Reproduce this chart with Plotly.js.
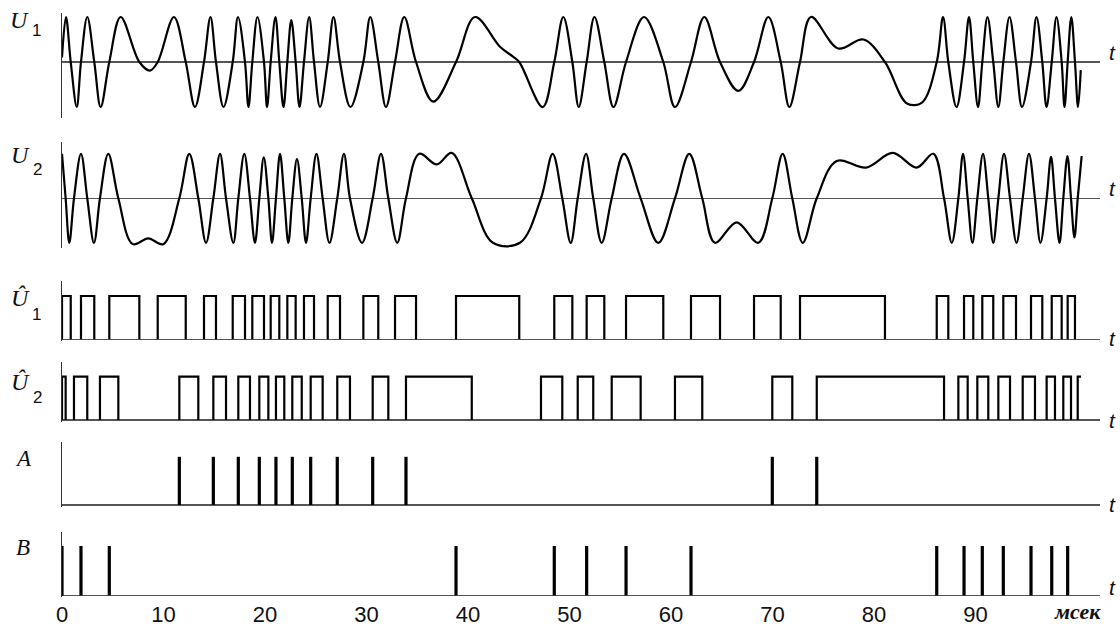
<!DOCTYPE html>
<html>
<head>
<meta charset="utf-8">
<script src="https://cdn.plot.ly/plotly-3.0.1.min.js"></script>
<style>
  html, body { margin: 0; padding: 0; background: #fff; }
  #chart { width: 1120px; height: 632px; }
</style>
</head>
<body>
<div id="chart"></div>
<script>
// ---------------- DATA (time in ms) ----------------
// U1: extrema and zero crossings
const u1T = [0, 0.39, 0.86, 1.45, 1.87, 2.49, 3.18, 3.81, 4.66, 5.78, 7.62, 8.67, 9.43, 11.03, 12.19, 13.10, 13.99, 14.63, 15.17, 15.91, 16.82, 17.34, 18.03, 18.37, 18.75, 19.26, 19.90, 20.20, 20.56, 21.03, 21.41, 21.82, 22.20, 22.59, 23.02, 23.40, 23.84, 24.35, 24.83, 25.42, 26.18, 26.75, 27.39, 28.42, 29.69, 30.37, 31.16, 31.92, 32.81, 33.72, 34.88, 36.58, 38.82, 40.69, 43.15, 44.43, 45.05, 47.36, 48.50, 49.39, 50.28, 50.91, 51.69, 52.46, 53.43, 54.33, 55.57, 57.34, 59.24, 60.39, 61.97, 63.28, 64.83, 66.63, 68.18, 69.59, 70.81, 71.66, 72.71, 73.79, 76.48, 78.95, 81.08, 83.25, 84.73, 86.18, 86.80, 87.32, 88.13, 88.87, 89.36, 89.78, 90.25, 90.67, 91.18, 91.75, 92.25, 92.74, 93.35, 93.99, 94.58, 95.47, 96.01, 96.58, 97.00, 97.51, 97.98, 98.49, 98.77, 99.08, 99.44, 99.80, 100.10, 100.37];
const u1V = [0.1, 1, 0, -1, 0, 1, 0, -1, 0, 1, 0, -0.19, 0, 1, 0, -1, 0, 1, 0, -1, 0, 1, 0, -1, 0, 1, 0, -1, 0, 1, 0, -1, 0, 0.93, 0, -1, 0, 1, 0, -1, 0, 1, 0, -1, 0, 1, 0, -1, 0, 1, 0, -0.88, 0, 1, 0.34, 0.12, 0, -1, 0, 1, 0, -1, 0, 1, 0, -1, 0, 1, 0, -1, 0, 1, 0, -0.64, 0, 1, 0, -1, 0, 1, 0.30, 0.50, 0, -0.92, -0.90, 0, 1, 0, -1, 0, 1, 0, -1, 0, 1, 0, -1, 0, 1, 0, -1, 0, 1, 0, -1, 0, 1, 0, -1, 0, 1, 0, -1, -0.18];

// U2
const u2T = [0, 0.36, 0.72, 1.18, 1.87, 2.49, 3.15, 3.74, 4.56, 5.55, 6.97, 8.50, 9.98, 11.56, 12.54, 13.43, 14.19, 14.91, 15.57, 16.16, 16.88, 17.37, 17.96, 18.52, 19.01, 19.44, 19.88, 20.33, 20.69, 21.08, 21.48, 21.90, 22.30, 22.69, 23.15, 23.62, 24.04, 24.50, 25.07, 25.68, 26.35, 27.12, 27.78, 28.37, 29.56, 30.61, 31.43, 32.15, 33.03, 33.89, 35.20, 36.92, 38.39, 40.37, 42.46, 45.12, 47.19, 48.34, 49.29, 50.12, 50.81, 51.63, 52.34, 53.17, 54.16, 55.37, 57.01, 58.75, 60.39, 61.80, 63.08, 64.33, 66.47, 68.60, 69.98, 71.00, 71.95, 72.98, 74.36, 76.33, 79.21, 81.84, 84.21, 85.84, 86.90, 87.66, 88.31, 88.77, 89.23, 89.70, 90.18, 90.74, 91.26, 91.75, 92.25, 92.81, 93.40, 94.04, 94.65, 95.27, 95.86, 96.40, 97.01, 97.44, 97.83, 98.28, 98.65, 99.06, 99.41, 99.75, 100.07, 100.46];
const u2V = [1, 0, -1, 0, 1, 0, -1, 0, 1, 0, -1.03, -0.9, -1.03, 0, 1, 0, -1, 0, 1, 0, -1, 0, 1, 0, -1, 0, 0.92, 0, -1, 0, 1, 0, -1, 0, 0.88, 0, -1, 0, 1, 0, -1, 0, 1, 0, -1, 0, 1, 0, -1, 0, 1, 0.76, 1.02, 0, -1.0, -1.0, 0, 1, 0, -1, 0, 1, 0, -1, 0, 1, 0, -1, 0, 1, 0, -1, -0.54, -1, 0, 1, 0, -1, 0, 0.84, 0.69, 1.02, 0.69, 1, 0, -1, 0, 1, 0, -1, 0, 1, 0, -1, 0, 1, 0, -1, 0, 1, 0, -1, 0, 0.93, 0, -1, 0, 0.95, 0, -0.88, 0, 0.95];

// U1-hat (rising / falling edges)
const u1hatRise = [0, 1.87, 4.66, 9.43, 13.99, 16.82, 18.75, 20.56, 22.20, 23.84, 26.18, 29.69, 32.81, 38.82, 48.50, 51.69, 55.57, 61.97, 68.18, 72.71, 86.18, 88.87, 90.67, 92.74, 95.47, 97.51, 99.08];
const u1hatFall = [0.86, 3.18, 7.62, 12.19, 15.17, 18.03, 19.90, 21.41, 23.02, 24.83, 27.39, 31.16, 34.88, 45.05, 50.28, 53.43, 59.24, 64.83, 70.81, 81.08, 87.32, 89.78, 91.75, 93.99, 96.58, 98.49, 99.80];

// U2-hat (the last pulse is still high at the end of the record)
const u2hatRise = [0, 1.18, 3.74, 11.56, 14.91, 17.37, 19.44, 21.08, 22.69, 24.50, 27.12, 30.61, 33.89, 47.19, 50.81, 54.16, 60.39, 69.98, 74.36, 88.31, 90.18, 92.25, 94.65, 97.01, 98.65, 100.07];
const u2hatFall = [0.36, 2.49, 5.55, 13.43, 16.16, 18.52, 20.33, 21.90, 23.62, 25.68, 28.37, 32.15, 40.37, 49.29, 52.34, 57.01, 63.08, 71.95, 86.90, 89.23, 91.26, 93.40, 95.86, 97.83, 99.41, 100.40];
const u2hatEndsHigh = true;

// Pulse trains
const aPulses = [11.56, 14.91, 17.37, 19.44, 21.08, 22.69, 24.50, 27.12, 30.61, 33.89, 69.98, 74.36];
const bPulses = [0, 1.87, 4.66, 38.82, 48.50, 51.69, 55.57, 61.97, 86.18, 88.87, 90.67, 92.74, 95.47, 97.51, 99.08];

// Axis ticks
const tickVals = [0, 10, 20, 30, 40, 50, 60, 70, 80, 90];
const tickText = ['0', '10', '20', '30', '40', '50', '60', '70', '80', '90'];
const unitLabel = 'мсек';

// ---------------- LAYOUT HELPERS ----------------
const W = 1120, H = 632, ML = 62, MR = 20, MT = 0, MB = 32;
const plotW = W - ML - MR, plotH = H - MT - MB;
const xmax = plotW / 10.15;
function dom(topPx, botPx) { return [1 - botPx / plotH, 1 - topPx / plotH]; }
function px(x) { return (x - ML) / plotW; }
function py(y) { return 1 - (y - MT) / plotH; }

function squareWave(rise, fall, endsHigh) {
  const x = [], y = [];
  for (let i = 0; i < rise.length; i++) {
    const last = i === rise.length - 1;
    if (last && endsHigh) { x.push(rise[i], rise[i], fall[i], null); y.push(0, 1, 1, null); }
    else { x.push(rise[i], rise[i], fall[i], fall[i], null); y.push(0, 1, 1, 0, null); }
  }
  return { x, y };
}
function pulses(times) {
  const x = [], y = [];
  times.forEach(t => { x.push(t, t, null); y.push(0, 1, null); });
  return { x, y };
}

const black = '#000';
const s1 = squareWave(u1hatRise, u1hatFall, false);
const s2 = squareWave(u2hatRise, u2hatFall, u2hatEndsHigh);
const pa = pulses(aPulses);
const pb = pulses(bPulses);

const traces = [
  { x: u1T, y: u1V, xaxis: 'x', yaxis: 'y', mode: 'lines', line: { color: black, width: 2.2, shape: 'spline', smoothing: 1 }, hoverinfo: 'skip' },
  { x: u2T, y: u2V, xaxis: 'x', yaxis: 'y2', mode: 'lines', line: { color: black, width: 2.2, shape: 'spline', smoothing: 1 }, hoverinfo: 'skip' },
  { x: s1.x, y: s1.y, xaxis: 'x', yaxis: 'y3', mode: 'lines', line: { color: black, width: 2.2 }, hoverinfo: 'skip' },
  { x: s2.x, y: s2.y, xaxis: 'x', yaxis: 'y4', mode: 'lines', line: { color: black, width: 2.2 }, hoverinfo: 'skip' },
  { x: pa.x, y: pa.y, xaxis: 'x', yaxis: 'y5', mode: 'lines', line: { color: black, width: 3.2 }, hoverinfo: 'skip' },
  { x: pb.x, y: pb.y, xaxis: 'x', yaxis: 'y6', mode: 'lines', line: { color: black, width: 3.2 }, hoverinfo: 'skip' }
];

function yax(domain, range) {
  return {
    domain: domain, range: range, anchor: 'x',
    showline: true, linecolor: '#333', linewidth: 1.2,
    zeroline: true, zerolinecolor: '#555', zerolinewidth: 1.5,
    showgrid: false, showticklabels: false, ticks: '', fixedrange: true
  };
}

const serif = 'Liberation Serif, Times New Roman, serif';
const sans = 'Liberation Sans, Arial, sans-serif';
function lab(text, x, y, family, size, extra) {
  return Object.assign({
    text: text, xref: 'paper', yref: 'paper', x: px(x), y: py(y),
    xanchor: 'center', yanchor: 'middle', showarrow: false,
    font: { family: family, size: size, color: '#111' }
  }, extra || {});
}

const annotations = [
  lab('<i>U</i>', 19, 20, serif, 24),
  lab('1', 36, 31, sans, 17),
  lab('<i>U</i>', 20, 155, serif, 24),
  lab('2', 37, 169, sans, 17),
  lab('<i>Û</i>', 20, 298, serif, 24),
  lab('1', 36.5, 314, sans, 17),
  lab('<i>Û</i>', 20, 382, serif, 24),
  lab('2', 37, 397, sans, 17),
  lab('<i>A</i>', 23, 458, serif, 23),
  lab('<i>B</i>', 23, 547, serif, 23),
  lab('<i>t</i>', 1112, 52, sans, 21),
  lab('<i>t</i>', 1112, 189, sans, 21),
  lab('<i>t</i>', 1112, 338, sans, 21),
  lab('<i>t</i>', 1112, 420, sans, 21),
  lab('<i>t</i>', 1112, 504, sans, 21),
  lab('<i>t</i>', 1112, 587, sans, 21),
  { text: '<b><i>' + unitLabel + '</i></b>', xref: 'x', yref: 'paper', x: 100, y: py(611),
    xanchor: 'center', yanchor: 'middle', showarrow: false,
    font: { family: serif, size: 22, color: '#111' } }
];

const layout = {
  width: W, height: H,
  margin: { l: ML, r: MR, t: MT, b: MB, pad: 0 },
  paper_bgcolor: '#fff', plot_bgcolor: 'rgba(0,0,0,0)',
  showlegend: false,
  xaxis: {
    domain: [0, 1], range: [0, xmax], anchor: 'y6',
    tickmode: 'array', tickvals: tickVals, ticktext: tickText,
    ticks: '', showline: false, showgrid: false, zeroline: false,
    ticklabelstandoff: 2,
    tickfont: { family: sans, size: 22, color: '#111' }, fixedrange: true
  },
  yaxis: yax(dom(13, 118), [-1.244, 1.089]),
  yaxis2: yax(dom(142, 248), [-1.117, 1.265]),
  yaxis3: yax(dom(281, 341), [-0.039, 1.346]),
  yaxis4: yax(dom(362, 422), [-0.046, 1.339]),
  yaxis5: yax(dom(442, 507), [-0.041, 1.307]),
  yaxis6: yax(dom(532, 597), [-0.032, 1.283]),
  annotations: annotations
};

Plotly.newPlot('chart', traces, layout, { displayModeBar: false, staticPlot: true });
</script>
</body>
</html>
